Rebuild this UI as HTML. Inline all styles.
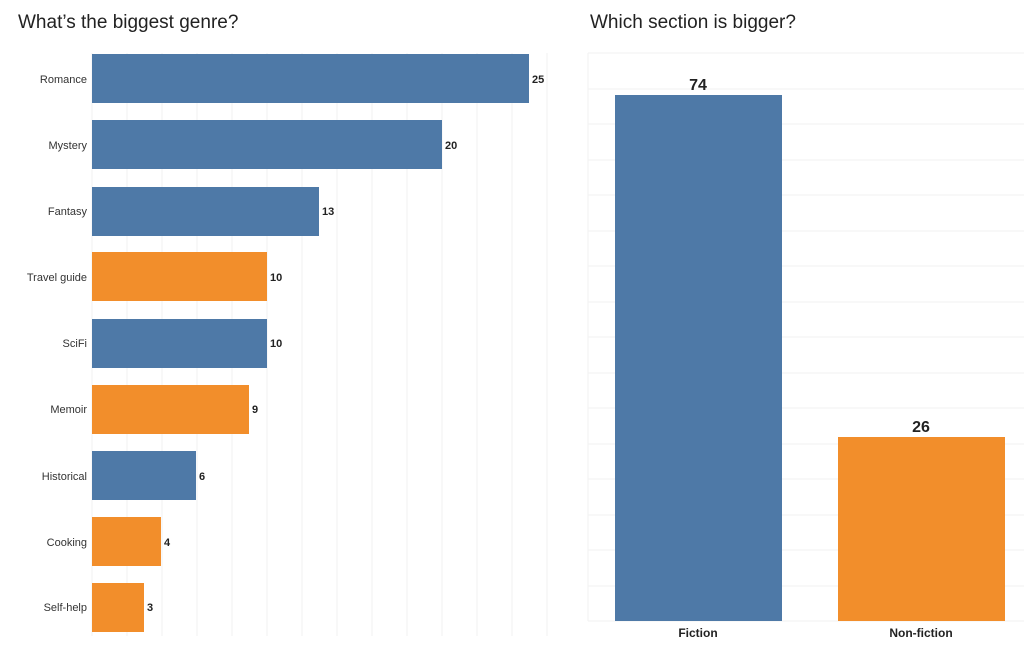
<!DOCTYPE html>
<html><head><meta charset="utf-8"><style>
body{margin:0;background:#fff;width:1024px;height:655px;overflow:hidden;font-family:"Liberation Sans",sans-serif;}
</style></head><body>
<svg width="1024" height="655" xmlns="http://www.w3.org/2000/svg" font-family="Liberation Sans, sans-serif">
<text x="18" y="28" font-size="19" fill="#222">What’s the biggest genre?</text>
<text x="590" y="28" font-size="19" fill="#222">Which section is bigger?</text>
<g stroke="#f2f2f2" stroke-width="1">
<line x1="92" y1="53" x2="92" y2="636"/>
<line x1="127" y1="53" x2="127" y2="636"/><line x1="162" y1="53" x2="162" y2="636"/>
<line x1="197" y1="53" x2="197" y2="636"/><line x1="232" y1="53" x2="232" y2="636"/>
<line x1="267" y1="53" x2="267" y2="636"/><line x1="302" y1="53" x2="302" y2="636"/>
<line x1="337" y1="53" x2="337" y2="636"/><line x1="372" y1="53" x2="372" y2="636"/>
<line x1="407" y1="53" x2="407" y2="636"/><line x1="442" y1="53" x2="442" y2="636"/>
<line x1="477" y1="53" x2="477" y2="636"/><line x1="512" y1="53" x2="512" y2="636"/>
<line x1="547" y1="53" x2="547" y2="636"/>
</g>
<g stroke="#f2f2f2" stroke-width="1">
<line x1="588" y1="53" x2="1024" y2="53"/><line x1="588" y1="89" x2="1024" y2="89"/>
<line x1="588" y1="124" x2="1024" y2="124"/><line x1="588" y1="160" x2="1024" y2="160"/>
<line x1="588" y1="195" x2="1024" y2="195"/><line x1="588" y1="231" x2="1024" y2="231"/>
<line x1="588" y1="266" x2="1024" y2="266"/><line x1="588" y1="302" x2="1024" y2="302"/>
<line x1="588" y1="337" x2="1024" y2="337"/><line x1="588" y1="373" x2="1024" y2="373"/>
<line x1="588" y1="408" x2="1024" y2="408"/><line x1="588" y1="444" x2="1024" y2="444"/>
<line x1="588" y1="479" x2="1024" y2="479"/><line x1="588" y1="515" x2="1024" y2="515"/>
<line x1="588" y1="550" x2="1024" y2="550"/><line x1="588" y1="586" x2="1024" y2="586"/>
<line x1="588" y1="621" x2="1024" y2="621"/>
<line x1="588" y1="53" x2="588" y2="621"/>
</g>
<g font-size="11" fill="#333" text-anchor="end">
<text x="87" y="83">Romance</text><text x="87" y="149">Mystery</text><text x="87" y="215">Fantasy</text>
<text x="87" y="281">Travel guide</text><text x="87" y="347">SciFi</text><text x="87" y="413">Memoir</text>
<text x="87" y="480">Historical</text><text x="87" y="546">Cooking</text><text x="87" y="611">Self-help</text>
</g>
<g>
<rect x="92" y="54" width="437" height="49" fill="#4e79a7"/>
<rect x="92" y="120" width="350" height="49" fill="#4e79a7"/>
<rect x="92" y="187" width="227" height="49" fill="#4e79a7"/>
<rect x="92" y="252" width="175" height="49" fill="#f28e2b"/>
<rect x="92" y="319" width="175" height="49" fill="#4e79a7"/>
<rect x="92" y="385" width="157" height="49" fill="#f28e2b"/>
<rect x="92" y="451" width="104" height="49" fill="#4e79a7"/>
<rect x="92" y="517" width="69" height="49" fill="#f28e2b"/>
<rect x="92" y="583" width="52" height="49" fill="#f28e2b"/>
</g>
<g font-size="11" font-weight="bold" fill="#222">
<text x="532" y="83">25</text><text x="445" y="149">20</text><text x="322" y="215">13</text>
<text x="270" y="281">10</text><text x="270" y="347">10</text><text x="252" y="413">9</text>
<text x="199" y="480">6</text><text x="164" y="546">4</text><text x="147" y="611">3</text>
</g>
<rect x="615" y="95" width="167" height="526" fill="#4e79a7"/>
<rect x="838" y="437" width="167" height="184" fill="#f28e2b"/>
<g font-size="16" font-weight="bold" fill="#222" text-anchor="middle">
<text x="698" y="90">74</text><text x="921" y="432">26</text>
</g>
<g font-size="12" font-weight="bold" fill="#222" text-anchor="middle">
<text x="698" y="637">Fiction</text><text x="921" y="637">Non-fiction</text>
</g>
</svg>
</body></html>
